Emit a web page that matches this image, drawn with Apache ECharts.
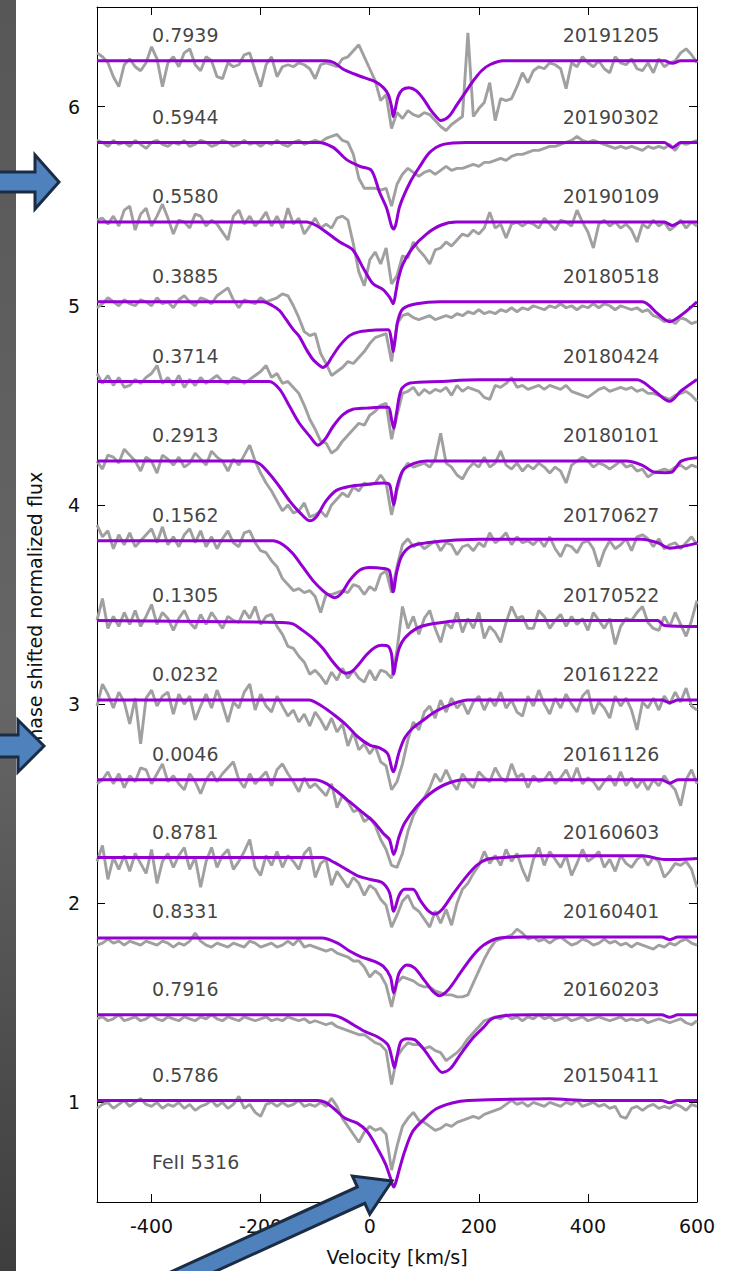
<!DOCTYPE html>
<html>
<head>
<meta charset="utf-8">
<script src="https://cdn.jsdelivr.net/npm/echarts/dist/echarts.min.js"></script>
<style>
html,body{margin:0;padding:0;background:#fff;}
#chart{width:736px;height:1271px;}
</style>
</head>
<body>
<div id="chart"></div>
<script>
// ---------------- data ----------------
const X_TICKS = [-400, -200, 0, 200, 400, 600];
const Y_TICKS = [1, 2, 3, 4, 5, 6];

// epochs, bottom (index 0) to top (index 13)
const DATES  = ['20150411','20160203','20160401','20160603','20161126','20161222','20170522','20170627','20180101','20180424','20180518','20190109','20190302','20191205'];
const PHASES = ['0.5786','0.7916','0.8331','0.8781','0.0046','0.0232','0.1305','0.1562','0.2913','0.3714','0.3885','0.5580','0.5944','0.7939'];
const OFFSETS = [0, 0.43, 0.82, 1.22, 1.61, 2.01, 2.41, 2.81, 3.21, 3.61, 4.01, 4.41, 4.81, 5.22];
const LINE_NAME = 'FeII 5316';

// velocity grid of the observed spectra (km/s)
const VEL = [-500,-490,-480,-470,-460,-450,-440,-430,-420,-410,
 -400,-390,-380,-370,-360,-350,-340,-330,-320,-310,
 -300,-290,-280,-270,-260,-250,-240,-230,-220,-210,
 -200,-190,-180,-170,-160,-150,-140,-130,-120,-110,
 -100,-90,-80,-70,-60,-50,-40,-30,-20,-10,
 0,10,20,30,40,50,60,70,80,90,
 100,110,120,130,140,150,160,170,180,190,
 200,210,220,230,240,250,260,270,280,290,
 300,310,320,330,340,350,360,370,380,390,
 400,410,420,430,440,450,460,470,480,490,
 500,510,520,530,540,550,560,570,580,590,
 600];

// observed normalized flux (grey)
const OBS_20150411 = [0.97,0.99,1.00,0.97,0.99,1.01,0.98,1.00,1.02,0.99,
 0.98,1.00,0.97,0.99,0.98,1.00,0.97,0.99,0.96,0.98,
 0.99,1.01,0.98,1.00,0.97,0.99,1.03,0.97,0.99,0.95,
 0.93,0.99,1.00,0.98,1.00,0.98,0.99,1.01,0.98,0.99,
 0.98,1.00,0.98,1.02,0.98,0.92,0.88,0.84,0.80,0.85,
 0.88,0.86,0.87,0.84,0.66,0.78,0.88,0.92,0.95,0.91,
 0.90,0.88,0.86,0.87,0.89,0.88,0.90,0.91,0.92,0.93,
 0.92,0.94,0.95,0.96,0.97,0.99,1.01,0.99,1.00,0.98,
 1.00,0.99,0.98,1.00,0.99,0.98,1.00,0.99,1.01,0.98,
 0.99,1.00,0.98,0.99,0.97,0.98,0.93,0.92,0.97,0.98,
 0.96,0.98,0.99,0.97,0.98,0.97,0.99,0.98,0.96,0.99,
 0.98];
const OBS_20160203 = [0.99,1.00,0.98,0.99,1.01,0.98,0.99,1.00,0.98,0.99,
 1.01,0.99,0.98,1.00,0.99,0.98,1.00,0.99,0.98,1.00,
 0.99,1.01,0.99,0.98,1.00,0.99,0.98,1.00,0.99,0.98,
 0.99,1.00,0.98,0.99,0.98,1.00,0.99,0.98,0.99,0.97,
 0.98,0.97,0.96,0.97,0.95,0.94,0.93,0.92,0.91,0.91,
 0.89,0.87,0.86,0.83,0.66,0.80,0.84,0.87,0.86,0.86,
 0.84,0.85,0.83,0.82,0.78,0.80,0.82,0.85,0.89,0.92,
 0.95,0.98,0.99,1.00,0.99,1.01,0.99,1.00,0.98,1.00,
 0.99,1.01,0.99,1.00,0.98,0.99,1.00,0.98,0.99,1.00,
 0.98,0.99,1.00,0.99,0.98,0.99,1.00,0.98,0.99,0.98,
 0.99,0.97,0.98,0.99,0.98,0.97,0.98,0.99,0.97,0.96,
 0.98];
const OBS_20160401 = [0.97,0.98,1.00,0.98,0.99,0.97,0.99,0.98,0.97,0.99,
 0.98,0.97,0.99,0.98,0.96,0.98,0.97,0.99,1.03,0.99,
 0.97,0.96,0.98,0.97,0.96,0.98,0.97,0.96,0.99,0.98,
 0.96,0.97,0.98,0.96,0.97,0.99,0.97,1.00,0.96,0.97,
 0.96,0.95,0.94,0.95,0.93,0.92,0.91,0.89,0.89,0.86,
 0.81,0.84,0.82,0.77,0.66,0.78,0.81,0.80,0.79,0.77,
 0.76,0.76,0.74,0.73,0.72,0.72,0.71,0.71,0.72,0.78,
 0.84,0.90,0.95,0.99,1.00,1.01,1.02,1.05,1.03,1.00,
 1.01,0.99,1.00,0.98,1.00,1.01,0.99,0.97,0.98,1.00,
 0.99,0.97,0.98,1.00,0.98,0.99,0.97,0.98,0.96,0.98,
 0.97,0.96,0.95,0.97,0.96,0.98,0.97,0.99,1.00,0.98,
 0.97];
const OBS_20160603 = [0.99,1.07,0.90,1.01,0.95,1.02,0.94,1.03,0.98,0.93,
 1.05,0.88,0.99,1.03,0.96,1.02,1.06,0.95,1.01,0.86,
 0.99,1.06,0.96,1.02,1.05,0.95,0.99,1.04,1.10,0.96,
 0.92,1.02,0.97,1.04,0.96,1.02,0.99,0.95,1.03,1.06,
 0.91,0.98,1.00,0.87,0.94,0.90,0.86,0.91,0.88,0.82,
 0.87,0.85,0.80,0.77,0.66,0.72,0.79,0.82,0.76,0.74,
 0.70,0.66,0.74,0.68,0.75,0.67,0.78,0.85,0.88,0.93,
 0.97,1.04,0.98,1.02,0.97,1.05,0.99,1.03,0.95,0.89,
 1.00,1.06,0.97,1.04,1.00,0.96,1.02,0.92,0.98,1.05,
 0.99,1.01,1.04,0.96,1.00,0.94,1.02,0.98,0.96,1.00,
 1.02,0.97,1.01,0.99,0.91,0.94,0.98,0.97,0.99,0.95,
 0.86];
const OBS_20161126 = [0.99,1.01,1.05,0.99,1.04,0.97,1.03,1.00,1.07,1.06,
 0.99,1.04,1.09,1.00,1.03,0.99,0.96,1.04,1.00,0.94,
 1.01,1.05,1.00,1.04,1.07,1.10,1.01,0.97,1.04,0.99,
 1.02,1.05,0.98,1.06,1.09,1.04,1.00,0.95,1.02,0.97,
 0.99,0.96,0.93,0.99,0.87,0.93,0.90,0.85,0.86,0.80,
 0.82,0.78,0.71,0.66,0.58,0.57,0.64,0.75,0.83,0.88,
 0.92,0.97,1.04,1.00,1.06,1.00,0.96,1.04,1.00,0.97,
 1.05,1.02,1.00,1.07,1.02,1.00,1.09,1.02,1.04,0.97,
 1.03,1.00,1.01,1.05,0.99,1.02,1.06,1.00,1.07,0.99,
 1.02,1.00,0.96,1.00,1.03,0.98,1.05,0.98,1.02,0.97,
 1.01,0.96,1.01,0.98,1.03,0.99,0.96,0.88,1.01,1.06,
 0.99];
const OBS_20161222 = [0.98,1.09,1.04,0.97,1.05,1.00,0.89,1.02,0.79,1.02,
 1.06,0.98,1.03,1.05,0.94,1.04,0.99,1.03,0.91,0.98,
 1.04,0.97,1.06,0.99,0.90,1.00,0.97,1.05,1.09,0.96,
 1.04,0.98,0.95,1.03,0.98,0.93,0.96,0.90,0.94,0.88,
 0.95,0.91,0.86,0.92,0.85,0.89,0.78,0.85,0.76,0.79,
 0.74,0.78,0.70,0.68,0.56,0.60,0.69,0.81,0.90,0.86,
 0.95,0.98,0.92,1.01,0.95,1.02,0.97,1.00,0.94,1.00,
 1.03,0.96,1.02,0.98,1.05,0.97,1.01,0.95,0.93,1.03,
 0.98,1.06,0.99,0.94,1.02,0.97,1.04,0.99,0.95,1.03,
 1.06,0.94,1.00,0.97,0.92,1.03,0.98,1.02,0.96,0.86,
 1.00,0.97,1.02,0.96,1.03,0.99,1.05,1.00,1.07,0.98,
 0.96];
const OBS_20170522 = [1.01,1.12,0.97,1.03,0.98,1.05,0.99,1.06,0.98,1.03,
 1.09,0.99,1.05,1.02,0.96,1.02,1.06,1.00,0.97,1.04,
 0.99,1.05,1.01,0.97,1.03,1.01,1.00,1.06,1.02,1.08,
 0.99,1.03,1.04,0.98,0.94,0.88,0.87,0.83,0.80,0.74,
 0.76,0.73,0.69,0.75,0.71,0.77,0.72,0.76,0.72,0.70,
 0.76,0.71,0.76,0.75,0.72,0.86,1.08,0.97,1.03,0.94,
 1.02,1.06,0.97,0.90,1.00,0.97,1.05,0.95,1.02,0.97,
 1.05,0.92,0.98,0.95,0.90,1.00,1.08,1.02,1.03,0.97,
 0.97,1.06,1.03,0.97,1.01,1.04,0.98,1.03,0.99,1.02,
 0.96,1.05,1.01,0.97,1.02,0.89,0.98,1.02,1.01,1.05,
 1.08,1.00,0.97,0.96,1.03,0.98,1.05,0.99,0.93,1.01,
 1.11];
const OBS_20170627 = [1.09,1.03,1.06,0.97,1.04,0.99,1.05,0.98,1.01,1.04,
 1.07,1.00,1.08,0.99,1.03,0.98,1.04,1.07,1.00,1.06,
 0.98,1.03,0.97,1.02,1.06,1.00,0.98,1.05,1.06,1.00,
 0.96,0.95,0.91,0.88,0.82,0.79,0.76,0.77,0.75,0.76,
 0.73,0.65,0.74,0.74,0.75,0.76,0.75,0.79,0.78,0.74,
 0.78,0.76,0.84,0.86,0.75,0.88,0.99,1.02,0.98,1.00,
 0.97,0.99,1.01,0.96,1.00,0.99,0.94,0.98,0.99,0.96,
 1.00,0.98,1.05,1.00,1.02,1.05,0.99,1.03,1.00,1.01,
 0.99,1.02,0.98,1.03,0.97,0.93,0.99,0.98,0.95,1.00,
 1.01,0.97,0.88,0.96,1.01,0.97,0.99,1.02,0.96,1.03,
 1.04,1.02,0.98,1.02,0.97,0.99,1.00,0.97,1.00,1.03,
 0.99];
const OBS_20180101 = [1.01,0.97,1.04,1.03,1.00,1.07,1.04,1.01,0.96,1.03,
 1.01,0.95,1.04,1.02,0.99,1.03,0.98,1.00,1.05,1.02,
 0.99,1.06,1.03,1.01,0.96,1.02,0.99,1.04,1.09,1.01,
 0.95,0.90,0.86,0.81,0.76,0.79,0.75,0.76,0.80,0.73,
 0.74,0.76,0.73,0.79,0.82,0.85,0.83,0.88,0.86,0.90,
 0.89,0.90,0.94,0.90,0.74,0.86,0.96,1.00,0.98,0.99,
 1.00,0.98,1.02,1.15,1.00,0.98,0.94,0.92,0.97,1.00,
 0.98,1.03,0.98,1.00,1.06,0.99,0.97,1.00,0.96,0.99,
 0.97,1.00,0.98,0.95,0.98,0.96,0.90,0.99,1.01,1.03,
 1.01,0.98,1.00,0.99,0.97,0.99,1.01,0.98,0.99,0.96,
 0.97,0.93,0.95,0.96,0.97,0.96,0.98,0.99,0.97,0.99,
 0.98];
const OBS_20180424 = [1.05,1.00,1.04,0.99,1.03,0.98,0.99,1.02,1.00,1.03,
 1.05,1.09,1.00,1.03,0.99,1.04,0.98,1.02,0.99,1.03,
 1.00,1.02,1.04,1.01,1.00,1.03,1.02,1.00,1.02,1.04,
 1.06,1.09,1.03,1.05,1.00,1.01,0.98,0.95,0.89,0.82,
 0.77,0.71,0.70,0.65,0.67,0.71,0.74,0.77,0.80,0.79,
 0.84,0.86,0.89,0.90,0.72,0.84,0.95,0.96,0.98,0.94,
 0.97,0.95,0.97,0.96,0.98,0.94,0.99,0.96,0.98,0.97,
 0.96,0.93,0.92,0.99,0.98,1.00,1.03,0.98,0.99,0.97,
 0.98,0.99,0.97,0.99,0.98,0.97,0.99,0.96,0.95,0.94,
 0.93,0.95,0.97,0.98,0.96,0.97,0.98,0.97,0.98,0.96,
 0.97,0.95,0.95,0.94,0.93,0.92,0.94,0.95,0.96,0.94,
 0.91];
const OBS_20180518 = [0.98,1.00,1.03,1.01,0.99,1.02,1.00,0.99,1.02,1.01,
 0.99,1.03,1.00,1.01,0.98,1.02,1.04,1.01,0.99,1.03,
 1.02,1.00,1.04,1.06,1.08,1.02,0.98,1.02,1.01,1.00,
 1.03,1.01,1.02,1.03,1.05,1.04,0.99,0.93,0.86,0.84,
 0.85,0.75,0.70,0.64,0.66,0.68,0.71,0.70,0.73,0.76,
 0.80,0.83,0.84,0.85,0.71,0.90,0.94,0.95,0.93,0.92,
 0.93,0.94,0.92,0.93,0.94,0.93,0.95,0.94,0.96,0.95,
 0.97,0.95,0.96,0.95,0.97,0.96,0.98,0.96,0.98,0.97,
 0.99,0.98,0.97,0.99,0.98,1.00,0.98,0.99,0.97,0.99,
 0.98,1.00,0.98,1.00,0.99,0.97,0.99,0.98,0.97,0.98,
 0.96,0.97,0.94,0.93,0.91,0.92,0.90,0.93,0.92,0.90,
 0.91];
const OBS_20190109 = [1.02,1.03,1.00,1.04,0.99,1.07,1.09,0.97,1.05,1.08,
 0.99,1.04,1.10,1.03,0.95,1.02,1.01,0.98,1.05,1.04,
 0.99,1.02,1.00,0.96,0.92,1.04,1.07,1.00,1.04,0.99,
 1.02,1.06,0.99,1.04,0.98,1.08,1.00,1.03,0.95,0.99,
 1.03,0.98,1.00,0.98,1.03,1.04,1.02,0.90,0.76,0.69,
 0.82,0.86,0.80,0.88,0.70,0.74,0.84,0.83,0.91,0.87,
 0.84,0.80,0.87,0.88,0.91,0.89,0.92,0.95,0.94,0.97,
 0.95,0.98,1.06,0.98,1.00,0.93,1.00,1.01,0.99,1.01,
 1.00,0.98,1.03,1.00,0.97,1.02,1.01,0.99,1.07,1.01,
 0.96,0.88,1.00,1.02,0.99,1.01,0.98,1.00,0.97,0.91,
 1.00,0.98,1.02,0.99,1.01,0.97,0.99,1.02,0.98,1.01,
 0.99];
const OBS_20190302 = [1.02,1.01,0.99,1.02,1.00,1.01,0.99,1.02,1.00,0.98,
 1.01,1.02,1.00,0.99,1.01,1.00,1.02,0.99,1.00,1.02,
 1.01,0.99,1.00,1.02,1.01,0.99,1.00,1.02,1.00,1.01,
 0.99,1.01,1.00,1.02,1.00,0.99,1.01,1.02,1.00,1.01,
 1.02,1.01,1.03,1.04,1.05,1.02,1.01,0.95,0.83,0.78,
 0.78,0.78,0.77,0.78,0.69,0.80,0.85,0.88,0.86,0.84,
 0.86,0.87,0.85,0.87,0.89,0.87,0.88,0.88,0.89,0.90,
 0.89,0.91,0.91,0.92,0.93,0.92,0.94,0.95,0.95,0.96,
 0.97,0.97,0.98,0.99,0.99,1.00,1.01,1.02,1.04,1.02,
 1.01,1.02,1.01,1.00,0.99,0.98,0.99,0.98,0.99,0.98,
 0.97,0.99,0.98,0.99,0.98,1.00,0.97,1.01,1.00,1.01,
 1.02];
const OBS_20191205 = [1.05,1.03,1.00,0.93,0.88,0.99,1.02,0.98,0.96,1.00,
 1.08,1.02,0.88,1.00,1.03,0.98,1.05,1.07,0.99,0.96,
 1.03,1.01,0.93,0.92,1.00,0.98,0.99,1.04,1.05,0.96,
 0.88,0.99,1.03,0.93,0.98,0.99,0.98,1.00,0.99,0.97,
 0.92,0.99,1.00,0.99,0.98,1.02,1.03,1.06,1.09,1.03,
 0.97,0.91,0.81,0.84,0.67,0.75,0.72,0.76,0.74,0.73,
 0.75,0.74,0.71,0.68,0.66,0.69,0.71,0.73,1.15,0.73,
 0.77,0.80,0.90,0.71,0.82,0.81,0.82,0.88,0.95,0.90,
 0.96,0.98,0.97,1.00,0.99,0.97,0.87,1.00,0.98,1.03,
 1.00,0.98,1.01,0.97,0.95,1.03,1.00,0.99,1.02,0.97,
 0.96,1.00,0.95,1.02,0.98,1.00,1.01,1.05,1.07,1.04,
 1.00];

// model profiles (purple): [velocity, normalized flux]
const MODEL_20150411 = [[-500,1.01],[-95,1.01],[-81,1.0],[-67,0.972],[-45,0.92],[-23,0.896],[-5,0.855],[14,0.77],[29,0.69],[38,0.62],[44,0.575],[48,0.60],[54,0.66],[64,0.754],[79,0.855],[101,0.92],[122,0.968],[151,0.997],[180,1.01],[330,1.018],[400,1.01],[535,1.01],[550,0.998],[565,1.01],[600,1.01]];
const MODEL_20160203 = [[-500,1.01],[-75,1.01],[-52,0.995],[-30,0.96],[-8,0.925],[14,0.90],[33,0.86],[40,0.80],[45,0.745],[50,0.80],[57,0.875],[68,0.89],[82,0.885],[101,0.83],[119,0.76],[133,0.72],[148,0.74],[166,0.81],[188,0.89],[209,0.948],[224,0.99],[250,1.007],[300,1.01],[535,1.01],[550,0.997],[565,1.01],[600,1.01]];
const MODEL_20160401 = [[-500,1.005],[-88,1.005],[-59,0.98],[-37,0.94],[-15,0.91],[7,0.89],[25,0.863],[38,0.81],[44,0.73],[54,0.83],[68,0.87],[82,0.855],[101,0.79],[115,0.74],[128,0.716],[144,0.746],[166,0.83],[188,0.913],[209,0.97],[238,1.005],[280,1.01],[535,1.01],[550,0.997],[565,1.01],[600,1.01]];
const MODEL_20160603 = [[-500,1.01],[-86,1.01],[-65,0.985],[-43,0.95],[-22,0.918],[0,0.90],[22,0.885],[36,0.835],[44,0.74],[54,0.82],[64,0.85],[79,0.85],[93,0.793],[108,0.74],[119,0.726],[133,0.75],[151,0.82],[173,0.90],[195,0.968],[216,1.002],[245,1.01],[300,1.018],[500,1.018],[540,1.0],[560,1.0],[600,1.005]];
const MODEL_20161126 = [[-500,1.01],[-101,1.01],[-81,0.993],[-59,0.95],[-37,0.90],[-15,0.85],[7,0.80],[25,0.74],[36,0.71],[44,0.635],[54,0.726],[64,0.793],[86,0.876],[108,0.935],[137,0.985],[173,1.01],[535,1.01],[550,0.993],[565,1.01],[600,1.01]];
const MODEL_20161222 = [[-500,1.01],[-112,1.01],[-86,0.977],[-65,0.935],[-43,0.885],[-22,0.826],[0,0.784],[18,0.77],[33,0.74],[43,0.65],[54,0.75],[64,0.82],[79,0.87],[101,0.915],[122,0.955],[151,0.99],[180,1.01],[535,1.01],[550,0.997],[565,1.01],[600,1.01]];
const MODEL_20170522 = [[-500,1.01],[-160,1.0],[-141,0.993],[-123,0.96],[-104,0.92],[-86,0.87],[-67,0.80],[-52,0.755],[-44,0.745],[-32,0.755],[-20,0.79],[-5,0.84],[10,0.875],[22,0.885],[34,0.88],[40,0.84],[44,0.74],[48,0.80],[54,0.87],[64,0.92],[86,0.97],[115,0.993],[173,1.01],[528,1.01],[540,0.985],[600,0.98]];
const MODEL_20170627 = [[-500,1.01],[-178,1.01],[-159,0.99],[-141,0.946],[-123,0.88],[-104,0.81],[-86,0.76],[-73,0.734],[-64,0.724],[-52,0.746],[-37,0.81],[-18,0.863],[0,0.876],[25,0.871],[36,0.86],[43,0.754],[49,0.846],[58,0.93],[74,0.98],[98,0.997],[141,1.01],[200,1.017],[499,1.018],[528,1.0],[550,0.973],[571,0.98],[600,0.998]];
const MODEL_20180101 = [[-500,1.01],[-221,1.01],[-202,0.997],[-184,0.946],[-165,0.88],[-147,0.81],[-129,0.754],[-110,0.71],[-98,0.73],[-80,0.81],[-61,0.863],[-37,0.883],[-6,0.893],[25,0.90],[36,0.893],[40,0.846],[44,0.79],[50,0.88],[61,0.963],[80,0.997],[104,1.01],[470,1.01],[499,0.99],[521,0.955],[543,0.952],[554,0.955],[571,1.01],[600,1.027]];
const MODEL_20180424 = [[-500,1.01],[-184,1.01],[-165,0.97],[-147,0.885],[-129,0.80],[-110,0.735],[-95,0.69],[-82,0.72],[-67,0.785],[-49,0.843],[-31,0.87],[-6,0.876],[18,0.88],[34,0.88],[40,0.82],[44,0.775],[49,0.85],[58,0.97],[74,1.002],[129,1.01],[200,1.018],[490,1.018],[519,0.97],[550,0.91],[571,0.963],[600,1.02]];
const MODEL_20180518 = [[-500,1.01],[-196,1.01],[-178,0.99],[-165,0.965],[-153,0.92],[-140,0.87],[-129,0.835],[-116,0.77],[-104,0.72],[-92,0.69],[-86,0.68],[-78,0.695],[-70,0.73],[-55,0.79],[-37,0.84],[-18,0.86],[10,0.868],[34,0.87],[39,0.83],[43,0.76],[47,0.83],[52,0.92],[61,0.975],[86,1.0],[129,1.01],[500,1.01],[528,0.95],[550,0.91],[571,0.943],[600,1.01]];
const MODEL_20190109 = [[-500,1.01],[-116,1.01],[-98,0.993],[-80,0.96],[-55,0.91],[-31,0.87],[-12,0.78],[6,0.70],[25,0.67],[37,0.63],[43,0.60],[48,0.66],[52,0.72],[61,0.80],[80,0.885],[104,0.95],[129,0.993],[159,1.01],[540,1.01],[555,0.993],[570,1.01],[600,1.01]];
const MODEL_20190302 = [[-500,1.01],[-95,1.01],[-67,0.985],[-43,0.925],[-18,0.89],[3,0.87],[18,0.76],[31,0.68],[40,0.59],[44,0.575],[48,0.60],[55,0.69],[74,0.81],[92,0.89],[110,0.96],[135,1.0],[177,1.01],[540,1.01],[555,0.985],[570,1.01],[600,1.01]];
const MODEL_20191205 = [[-500,1.01],[-80,1.01],[-65,1.0],[-50,0.97],[-30,0.945],[-10,0.925],[10,0.905],[25,0.875],[34,0.84],[40,0.78],[43,0.73],[47,0.77],[52,0.83],[60,0.865],[72,0.875],[85,0.86],[98,0.82],[110,0.77],[120,0.735],[130,0.71],[145,0.73],[160,0.79],[175,0.85],[190,0.91],[205,0.96],[220,0.99],[245,1.01],[540,1.01],[555,0.997],[570,1.01],[600,1.01]];

const OBS = [OBS_20150411, OBS_20160203, OBS_20160401, OBS_20160603, OBS_20161126, OBS_20161222, OBS_20170522, OBS_20170627, OBS_20180101, OBS_20180424, OBS_20180518, OBS_20190109, OBS_20190302, OBS_20191205];
const MODEL = [MODEL_20150411, MODEL_20160203, MODEL_20160401, MODEL_20160603, MODEL_20161126, MODEL_20161222, MODEL_20170522, MODEL_20170627, MODEL_20180101, MODEL_20180424, MODEL_20180518, MODEL_20190109, MODEL_20190302, MODEL_20191205];

// ---------------- chart ----------------
const FONT = 'DejaVu Sans';
const TXT = '#111111';
const LABEL_DY = 1.14;     // label height above offset
const PHASE_X = -400, DATE_X = 532;

const series = [];
OBS.forEach((arr, i) => {
  series.push({
    type: 'line', name: 'obs ' + DATES[i], silent: true, symbol: 'none', z: 2,
    lineStyle: { color: '#a0a0a0', width: 2.9 },
    data: VEL.map((v, k) => [v, arr[k] + OFFSETS[i]])
  });
});
MODEL.forEach((arr, i) => {
  series.push({
    type: 'line', name: 'model ' + DATES[i], silent: true, symbol: 'none', z: 3,
    smooth: 0.3,
    lineStyle: { color: '#9400d3', width: 3 },
    data: arr.map(p => [p[0], p[1] + OFFSETS[i]])
  });
});
const txtStyle = { show: true, color: TXT, fontFamily: FONT, fontSize: 19, distance: 0 };
series.push({
  type: 'scatter', silent: true, symbolSize: 1, z: 5,
  itemStyle: { color: 'rgba(0,0,0,0)' },
  label: Object.assign({ position: 'right', formatter: p => p.data.text }, txtStyle),
  data: PHASES.map((p, i) => ({ value: [PHASE_X, OFFSETS[i] + LABEL_DY], text: p }))
    .concat([{ value: [PHASE_X, 0.70], text: LINE_NAME }])
});
series.push({
  type: 'scatter', silent: true, symbolSize: 1, z: 5,
  itemStyle: { color: 'rgba(0,0,0,0)' },
  label: Object.assign({ position: 'left', formatter: p => p.data.text }, txtStyle),
  data: DATES.map((d, i) => ({ value: [DATE_X, OFFSETS[i] + LABEL_DY], text: d }))
});

function arrowPts(tx, ty, deg, len, sh, hl, hh) {
  const a = deg * Math.PI / 180, ux = Math.cos(a), uy = -Math.sin(a);
  const nx = -uy, ny = ux;
  const bx = tx - ux * hl, by = ty - uy * hl, ex = tx - ux * len, ey = ty - uy * len;
  return [[tx, ty], [bx + nx * hh, by + ny * hh], [bx + nx * sh, by + ny * sh], [ex + nx * sh, ey + ny * sh],
          [ex - nx * sh, ey - ny * sh], [bx - nx * sh, by - ny * sh], [bx - nx * hh, by - ny * hh]];
}
const arrowStyle = { fill: '#4f81bd', stroke: '#1b2d45', lineWidth: 3 };

const axisCommonX = {
  type: 'value', min: -500, max: 600,
  axisLine: { show: true, onZero: false, lineStyle: { color: '#000', width: 1 } },
  axisTick: { show: true, inside: true, length: 8, customValues: X_TICKS, lineStyle: { color: '#000' } },
  splitLine: { show: false }
};
const axisCommonY = {
  type: 'value', min: 0.5, max: 6.5,
  axisLine: { show: true, onZero: false, lineStyle: { color: '#000', width: 1 } },
  axisTick: { show: true, inside: true, length: 8, customValues: Y_TICKS, lineStyle: { color: '#000' } },
  splitLine: { show: false }
};

const chart = echarts.init(document.getElementById('chart'), null, { renderer: 'svg' });
chart.setOption({
  animation: false,
  backgroundColor: '#ffffff',
  grid: { left: 97, right: 39, top: 7, bottom: 68 },
  xAxis: [
    Object.assign({}, axisCommonX, {
      position: 'bottom',
      axisLabel: { customValues: X_TICKS, margin: 14, color: TXT, fontFamily: FONT, fontSize: 19 },
      name: 'Velocity [km/s]', nameLocation: 'middle', nameGap: 45,
      nameTextStyle: { color: TXT, fontFamily: FONT, fontSize: 19 }
    }),
    Object.assign({}, axisCommonX, { position: 'top', axisLabel: { show: false } })
  ],
  yAxis: [
    Object.assign({}, axisCommonY, {
      position: 'left',
      axisLabel: { customValues: Y_TICKS, margin: 17, color: TXT, fontFamily: FONT, fontSize: 19 }
    }),
    Object.assign({}, axisCommonY, { position: 'right', axisLabel: { show: false } })
  ],
  series: series,
  graphic: [
    { type: 'rect', left: 0, top: 0, z: 50, silent: true,
      shape: { x: 0, y: 0, width: 16, height: 1271 },
      style: { fill: { type: 'linear', x: 0, y: 0, x2: 0, y2: 1,
        colorStops: [{ offset: 0, color: '#575757' }, { offset: 0.55, color: '#666666' }, { offset: 1, color: '#3e3e3e' }] } } },
    { type: 'text', x: 35, y: 612, rotation: Math.PI / 2, z: 50, silent: true,
      style: { text: 'Phase shifted normalized flux', fill: TXT, font: '19px "DejaVu Sans"', align: 'center', verticalAlign: 'middle' } },
    { type: 'polygon', z: 60, silent: true, shape: { points: arrowPts(59, 182, 0, 75, 10, 24, 27) }, style: arrowStyle },
    { type: 'polygon', z: 60, silent: true, shape: { points: arrowPts(44, 746, 0, 60, 11, 26, 26) }, style: arrowStyle },
    { type: 'polygon', z: 60, silent: true, shape: { points: arrowPts(392, 1181, 24.5, 320, 9, 34, 21) }, style: arrowStyle }
  ]
});
</script>
</body>
</html>
